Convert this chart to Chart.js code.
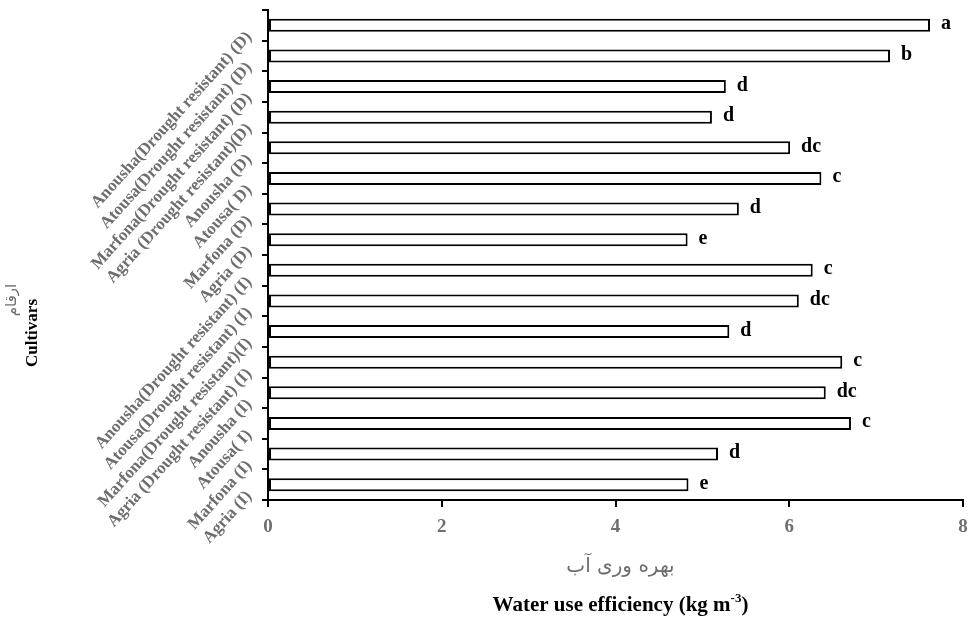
<!DOCTYPE html>
<html>
<head>
<meta charset="utf-8">
<script src="https://cdn.jsdelivr.net/npm/chart.js@4.4.0/dist/chart.umd.min.js"></script>
<style>
  html, body { margin: 0; padding: 0; background: #fff; }
  #wrap { width: 971px; height: 621px; }
</style>
</head>
<body>
<div id="wrap"><canvas id="myChart" width="971" height="621"></canvas></div>
<script>
// datos
const cultivars = [
  'Anousha(Drought resistant) (D)',
  'Atousa(Drought resistant) (D)',
  'Marfona(Drought resistant) (D)',
  'Agria (Drought resistant)(D)',
  'Anousha (D)',
  'Atousa( D)',
  'Marfona (D)',
  'Agria (D)',
  'Anousha(Drought resistant) (I)',
  'Atousa(Drought resistant) (I)',
  'Marfona(Drought resistant)(I)',
  'Agria (Drought resistant) (I)',
  'Anousha (I)',
  'Atousa( I)',
  'Marfona (I)',
  'Agria (I)'
];
const wue = [7.62, 7.16, 5.27, 5.11, 6.01, 6.37, 5.42, 4.83, 6.27, 6.11, 5.31, 6.61, 6.42, 6.71, 5.18, 4.84];
const letras = ['a', 'b', 'd', 'd', 'dc', 'c', 'd', 'e', 'c', 'dc', 'd', 'c', 'dc', 'c', 'd', 'e'];
const xTicks = [0, 2, 4, 6, 8];

const serif = '"Liberation Serif", "Times New Roman", "DejaVu Serif", serif';
const persa = '"DejaVu Sans", "Noto Sans", sans-serif';
const gris = '#6e6e6e';

// letras y titulos dibujados a mano
const extras = {
  id: 'extras',
  afterDatasetsDraw(chart) {
    const ctx = chart.ctx;
    const meta = chart.getDatasetMeta(0);
    ctx.save();
    ctx.fillStyle = '#000';
    ctx.font = 'bold 20px ' + serif;
    ctx.textAlign = 'left';
    ctx.textBaseline = 'alphabetic';
    meta.data.forEach((bar, i) => {
      ctx.fillText(letras[i], bar.x + 11, bar.y + 4);
    });
    ctx.restore();
  },
  afterDraw(chart) {
    const ctx = chart.ctx;
    const area = chart.chartArea;
    const cx = (area.left + area.right) / 2;
    ctx.save();
    // titulo eje x en persa
    ctx.fillStyle = gris;
    ctx.font = '20px ' + persa;
    ctx.textAlign = 'center';
    ctx.textBaseline = 'middle';
    ctx.fillText('بهره وری آب', cx + 5, 567);

    // titulo eje x en ingles con superindice
    ctx.fillStyle = '#000';
    const t1 = 'Water use efficiency (kg m';
    ctx.font = 'bold 21px ' + serif;
    const w1 = ctx.measureText(t1).width;
    ctx.font = 'bold 13px ' + serif;
    const w2 = ctx.measureText('-3').width;
    ctx.font = 'bold 21px ' + serif;
    const w3 = ctx.measureText(')').width;
    let x0 = cx + 5 - (w1 + w2 + w3) / 2;
    ctx.textAlign = 'left';
    ctx.textBaseline = 'alphabetic';
    ctx.fillText(t1, x0, 611);
    ctx.font = 'bold 13px ' + serif;
    ctx.fillText('-3', x0 + w1, 602);
    ctx.font = 'bold 21px ' + serif;
    ctx.fillText(')', x0 + w1 + w2, 611);

    // titulos eje y
    ctx.translate(33, 333);
    ctx.rotate(-Math.PI / 2);
    ctx.textAlign = 'center';
    ctx.textBaseline = 'middle';
    ctx.font = 'bold 17px ' + serif;
    ctx.fillText('Cultivars', 0, 0);
    ctx.restore();

    ctx.save();
    ctx.translate(12, 300);
    ctx.rotate(-Math.PI / 2);
    ctx.textAlign = 'center';
    ctx.textBaseline = 'middle';
    ctx.fillStyle = gris;
    ctx.font = '15px ' + persa;
    ctx.fillText('ارقام', 0, 0);
    ctx.restore();
  }
};

const ctx = document.getElementById('myChart').getContext('2d');

const myChart = new Chart(ctx, {
  type: 'bar',
  data: {
    labels: cultivars,
    datasets: [{
      label: 'WUE',
      data: wue,
      backgroundColor: '#ffffff',
      borderColor: '#000000',
      borderWidth: 2,
      borderSkipped: false,
      barPercentage: 0.65,
      categoryPercentage: 0.65
    }]
  },
  options: {
    indexAxis: 'y',
    responsive: false,
    animation: false,
    events: [],
    layout: { padding: { left: 0, right: 8, top: 10, bottom: 0 } },
    plugins: {
      legend: { display: false },
      tooltip: { enabled: false }
    },
    scales: {
      x: {
        type: 'linear',
        min: 0,
        max: 8,
        afterBuildTicks: (scale) => { scale.ticks = xTicks.map(v => ({ value: v })); },
        afterFit: (scale) => {
          scale.height = 121;
          scale.paddingLeft = 0;
          scale.paddingRight = 0;
        },
        grid: { drawOnChartArea: false, drawTicks: true, tickLength: 7, color: '#000', lineWidth: 2 },
        border: { color: '#000', width: 2 },
        ticks: { color: gris, font: { family: serif, size: 19, weight: 'bold' }, padding: 9 }
      },
      y: {
        afterFit: (scale) => {
          scale.width = 268;
          scale.paddingTop = 0;
          scale.paddingBottom = 0;
        },
        grid: { offset: true, drawOnChartArea: false, drawTicks: true, tickLength: 6, color: '#000', lineWidth: 2 },
        border: { color: '#000', width: 2 },
        ticks: {
          color: gris,
          font: { family: serif, size: 17, weight: 'bold' },
          minRotation: 48,
          maxRotation: 48,
          autoSkip: false,
          labelOffset: 9,
          padding: 13
        }
      }
    }
  },
  plugins: [extras]
});
</script>
</body>
</html>
